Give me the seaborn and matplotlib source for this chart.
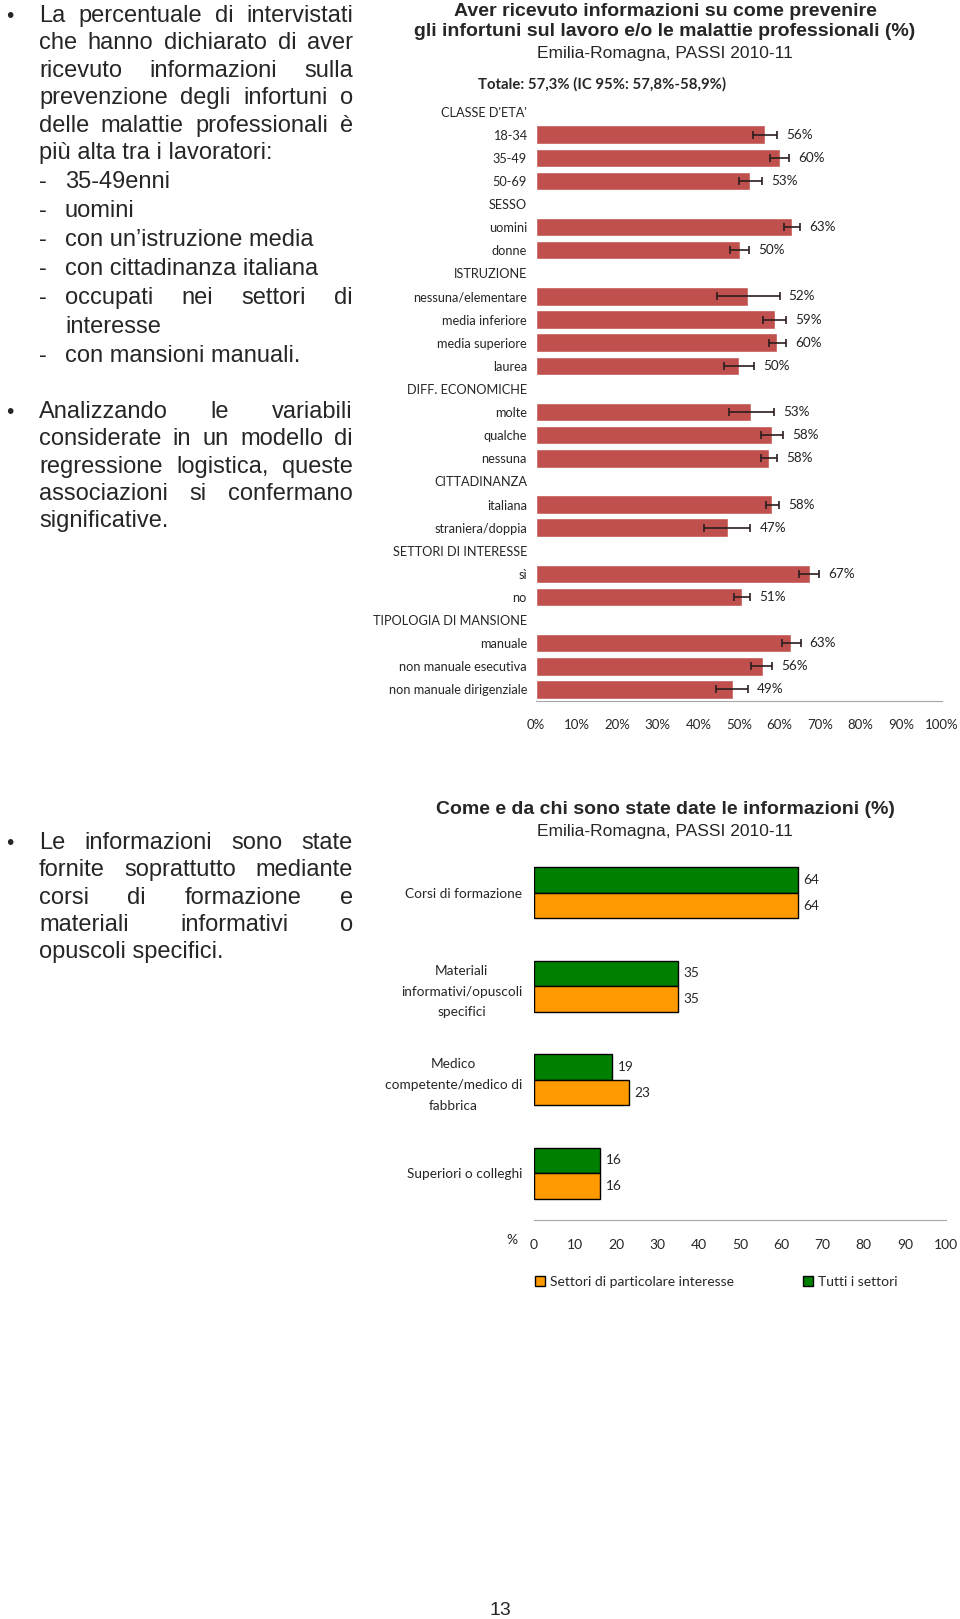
import numpy as np
import pandas as pd
import seaborn as sns
import matplotlib.pyplot as plt
from matplotlib.patches import Patch

sns.set_style("white")
plt.rcParams["font.family"] = ["Lato", "DejaVu Sans"]

W, H = 960, 1619
ARIAL = ["Liberation Sans", "DejaVu Sans"]

# grafico 1: righe dell'asse (intestazioni comprese) e dati
righe = ["CLASSE D'ETA'", "18-34", "35-49", "50-69",
         "SESSO", "uomini", "donne",
         "ISTRUZIONE", "nessuna/elementare", "media inferiore", "media superiore", "laurea",
         "DIFF. ECONOMICHE", "molte", "qualche", "nessuna",
         "CITTADINANZA", "italiana", "straniera/doppia",
         "SETTORI DI INTERESSE", "sì", "no",
         "TIPOLOGIA DI MANSIONE", "manuale", "non manuale esecutiva", "non manuale dirigenziale"]
categorie = ["18-34", "35-49", "50-69", "uomini", "donne",
             "nessuna/elementare", "media inferiore", "media superiore", "laurea",
             "molte", "qualche", "nessuna", "italiana", "straniera/doppia",
             "sì", "no", "manuale", "non manuale esecutiva", "non manuale dirigenziale"]
valori = [56.4, 60.1, 52.8, 63.1, 50.3, 52.3, 58.8, 59.4, 50.0, 53.0,
          58.1, 57.3, 58.1, 47.4, 67.4, 50.8, 62.8, 55.8, 48.5]
ci_inf = [53.4, 57.7, 50.1, 61.2, 47.7, 44.5, 55.8, 57.4, 46.3, 47.5,
          55.3, 55.3, 56.6, 41.5, 64.9, 48.8, 60.6, 53.0, 44.3]
ci_sup = [59.4, 62.3, 55.7, 65.0, 52.5, 60.0, 61.6, 61.6, 53.8, 58.7,
          60.8, 59.4, 59.8, 52.8, 69.7, 52.8, 65.2, 58.2, 52.3]
etichette = ["56%", "60%", "53%", "63%", "50%", "52%", "59%", "60%", "50%", "53%",
             "58%", "58%", "58%", "47%", "67%", "51%", "63%", "56%", "49%"]
tick1 = ["0%", "10%", "20%", "30%", "40%", "50%", "60%", "70%", "80%", "90%", "100%"]

# grafico 2
fonti = ["Corsi di formazione", "Materiali\ninformativi/opuscoli\nspecifici",
         "Medico\ncompetente/medico di\nfabbrica", "Superiori o colleghi"]
tutti = [64, 35, 19, 16]
settori = [64, 35, 23, 16]
serie = ["Tutti i settori", "Settori di particolare interesse"]
tick2 = [0, 10, 20, 30, 40, 50, 60, 70, 80, 90, 100]

fig = plt.figure(figsize=(9.6, 16.19), dpi=100)
fig.patch.set_facecolor("white")
r = fig.canvas.get_renderer()


def fx(x):
    return x / W


def fy(y):
    return 1 - y / H


def riga(s, x0, x1, yb, giust, size=17):
    parole = s.split()
    if not giust or len(parole) < 2:
        fig.text(fx(x0), fy(yb), s, fontsize=size, family=ARIAL, va="baseline")
        return
    testi = [fig.text(0, 0, p, fontsize=size, family=ARIAL, va="baseline") for p in parole]
    larg = [t.get_window_extent(renderer=r).width for t in testi]
    gap = (x1 - x0 - sum(larg)) / (len(parole) - 1)
    x = x0
    for t, w in zip(testi, larg):
        t.set_position((fx(x), fy(yb)))
        x += w + gap


def punto(yb):
    fig.text(fx(6), fy(yb), "•", fontsize=15, family=ARIAL, va="baseline")


# testo a sinistra
XL, XR, XD = 39, 353, 65
par1 = [("La percentuale di intervistati", True),
        ("che hanno dichiarato di aver", True),
        ("ricevuto informazioni sulla", True),
        ("prevenzione degli infortuni o", True),
        ("delle malattie professionali è", True),
        ("più alta tra i lavoratori:", False)]
elenco = [("35-49enni", False, True), ("uomini", False, True),
          ("con un’istruzione media", False, True), ("con cittadinanza italiana", False, True),
          ("occupati nei settori di", True, True), ("interesse", False, False),
          ("con mansioni manuali.", False, True)]
par2 = [("Analizzando le variabili", True),
        ("considerate in un modello di", True),
        ("regressione logistica, queste", True),
        ("associazioni si confermano", True),
        ("significative.", False)]
par3 = [("Le informazioni sono state", True),
        ("fornite soprattutto mediante", True),
        ("corsi di formazione e", True),
        ("materiali informativi o", True),
        ("opuscoli specifici.", False)]

punto(22)
for i, (s, g) in enumerate(par1):
    riga(s, XL, XR, 22 + 27.4 * i, g)
for i, (s, g, trattino) in enumerate(elenco):
    yb = 188 + 29 * i
    if trattino:
        fig.text(fx(XL), fy(yb), "-", fontsize=17, family=ARIAL, va="baseline")
    riga(s, XD, XR, yb, g)
punto(418)
for i, (s, g) in enumerate(par2):
    riga(s, XL, XR, 418 + 27.3 * i, g)
punto(849)
for i, (s, g) in enumerate(par3):
    riga(s, XL, XR, 849 + 27.3 * i, g)

fig.text(fx(500), fy(1610), "13", fontsize=14, family=ARIAL, ha="center", va="center")

# ---- grafico 1 ----
fig.text(fx(665), fy(11), "Aver ricevuto informazioni su come prevenire", fontsize=14,
         weight="bold", family=ARIAL, ha="center", va="center")
fig.text(fx(665), fy(32), "gli infortuni sul lavoro e/o le malattie professionali (%)", fontsize=14,
         weight="bold", family=ARIAL, ha="center", va="center")
fig.text(fx(665), fy(53.5), "Emilia-Romagna, PASSI 2010-11", fontsize=12.5,
         family=ARIAL, ha="center", va="center")
fig.text(fx(602), fy(84), "Totale: 57,3% (IC 95%: 57,8%-58,9%)", fontsize=10.7,
         weight="bold", ha="center", va="center")

ax1 = fig.add_axes([fx(536), fy(701), 406 / W, 601 / H])
df1 = pd.DataFrame({"cat": categorie, "val": valori})
sns.barplot(data=df1, x="val", y="cat", order=righe, color="#C0504D", width=0.8,
            saturation=1, errorbar=None, ax=ax1)
pos = [righe.index(c) for c in categorie]
ax1.errorbar(valori, pos, xerr=[np.subtract(valori, ci_inf), np.subtract(ci_sup, valori)],
             fmt="none", ecolor="#2b1d1d", elinewidth=1.2, capsize=3, capthick=1.2)
for v, p, t in zip(ci_sup, pos, etichette):
    ax1.text(v + 2.2, p, t, va="center", ha="left", fontsize=9.7, color="#222222")
ax1.set_xlim(0, 100)
ax1.set_ylim(len(righe) - 0.5, -0.5)
ax1.set_xticks(tick2)
ax1.set_xticklabels(tick1)
ax1.set_xlabel("")
ax1.set_ylabel("")
for s in ["top", "right", "left"]:
    ax1.spines[s].set_visible(False)
ax1.spines["bottom"].set_color("#a6a6a6")
ax1.tick_params(axis="x", direction="out", length=5, color="#a6a6a6", pad=8, labelsize=9.5)
ax1.tick_params(axis="y", length=0, pad=6.5, labelsize=9.2)

# ---- grafico 2 ----
fig.text(fx(665), fy(810), "Come e da chi sono state date le informazioni (%)", fontsize=14,
         weight="bold", family=ARIAL, ha="center", va="center")
fig.text(fx(665), fy(831), "Emilia-Romagna, PASSI 2010-11", fontsize=12.5,
         family=ARIAL, ha="center", va="center")

ax2 = fig.add_axes([fx(534), fy(1220), 412 / W, 374 / H])
df2 = pd.DataFrame({"fonte": fonti * 2, "val": tutti + settori,
                    "serie": [serie[0]] * len(fonti) + [serie[1]] * len(fonti)})
sns.barplot(data=df2, x="val", y="fonte", hue="serie", hue_order=serie,
            palette=["#008000", "#FF9900"], width=0.55, saturation=1, edgecolor="black",
            linewidth=1, errorbar=None, legend=False, ax=ax2)
for c in ax2.containers:
    ax2.bar_label(c, padding=4, fontsize=9.8)
ax2.set_xlim(0, 100)
ax2.set_ylim(len(fonti) - 0.5, -0.5)
ax2.set_xticks(tick2)
ax2.set_xlabel("")
ax2.set_ylabel("")
for s in ["top", "right", "left"]:
    ax2.spines[s].set_visible(False)
ax2.spines["bottom"].set_color("#a6a6a6")
ax2.tick_params(axis="x", direction="out", length=5, color="#a6a6a6", pad=9, labelsize=10)
ax2.tick_params(axis="y", length=0, pad=8.5, labelsize=9.8)
for t in ax2.get_yticklabels():
    t.set_multialignment("center")
    t.set_linespacing(1.85)
fig.text(fx(512), fy(1240), "%", fontsize=10, ha="center", va="center")

maniglie = [Patch(facecolor="#FF9900", edgecolor="black", label=serie[1]),
            Patch(facecolor="#008000", edgecolor="black", label=serie[0])]
fig.legend(handles=maniglie, loc="center left", bbox_to_anchor=(fx(522), fy(1282)), ncol=2,
           frameon=False, handlelength=0.75, handleheight=0.75, handletextpad=0.4,
           columnspacing=4.9, fontsize=10)

fig.savefig("out.png", dpi=100, facecolor="white")
